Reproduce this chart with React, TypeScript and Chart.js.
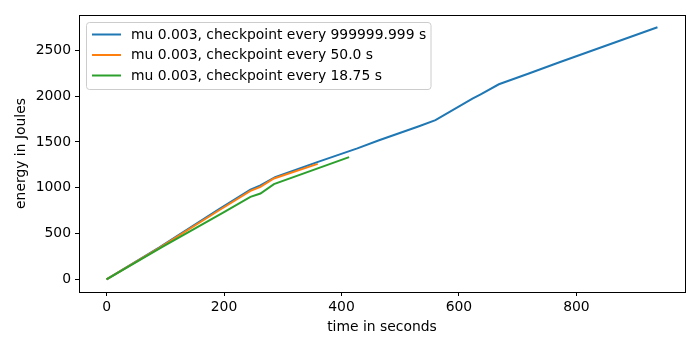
import React, { useEffect, useRef } from "react";
import { Chart, registerables } from "chart.js";

Chart.register(...registerables);

const seriesLabels = [
  "mu 0.003, checkpoint every 999999.999 s",
  "mu 0.003, checkpoint every 50.0 s",
  "mu 0.003, checkpoint every 18.75 s",
];
const seriesColors = ["#1f77b4", "#ff7f0e", "#2ca02c"];

const blueT = [0, 90, 191, 245, 262, 287, 360, 427, 464, 532, 560, 623, 637, 668, 719, 770, 938];
const blueE = [0, 350, 765, 980, 1025, 1115, 1282, 1430, 1518, 1671, 1737, 1973, 2020, 2129, 2246, 2366, 2752];

const orangeT = [0, 90, 191, 245, 262, 285, 359.5];
const orangeE = [0, 345, 752, 966, 1010, 1101, 1260];

const greenT = [0, 95, 200, 245, 262, 285, 413];
const greenE = [0, 355, 735, 900, 937, 1040, 1334];

const xTicks = [0, 200, 400, 600, 800];
const yTicks = [0, 500, 1000, 1500, 2000, 2500];

const FONT = "'DejaVu Sans', sans-serif";
const FS = 13.9;

const framePlugin = {
  id: "frame",
  afterDraw(chart: any) {
    const { ctx, chartArea } = chart;
    ctx.save();
    ctx.strokeStyle = "#000";
    ctx.lineWidth = 1;
    ctx.strokeRect(
      Math.round(chartArea.left) + 0.5,
      Math.round(chartArea.top) + 0.5,
      Math.round(chartArea.right - chartArea.left),
      Math.round(chartArea.bottom - chartArea.top)
    );
    // legend
    const x0 = 86.5, y0 = 22.5, w = 344.5, h = 67;
    const r = 3;
    ctx.beginPath();
    ctx.moveTo(x0 + r, y0);
    ctx.lineTo(x0 + w - r, y0);
    ctx.arcTo(x0 + w, y0, x0 + w, y0 + r, r);
    ctx.lineTo(x0 + w, y0 + h - r);
    ctx.arcTo(x0 + w, y0 + h, x0 + w - r, y0 + h, r);
    ctx.lineTo(x0 + r, y0 + h);
    ctx.arcTo(x0, y0 + h, x0, y0 + h - r, r);
    ctx.lineTo(x0, y0 + r);
    ctx.arcTo(x0, y0, x0 + r, y0, r);
    ctx.closePath();
    ctx.fillStyle = "rgba(255,255,255,0.8)";
    ctx.fill();
    ctx.strokeStyle = "#cccccc";
    ctx.stroke();
    const rows = [34.5, 55, 75.5];
    chart.data.datasets.forEach((ds: any, i: number) => {
      ctx.beginPath();
      ctx.strokeStyle = ds.borderColor;
      ctx.lineWidth = 2;
      ctx.moveTo(92, rows[i]);
      ctx.lineTo(121, rows[i]);
      ctx.stroke();
      ctx.fillStyle = "#000";
      ctx.font = `${FS}px ${FONT}`;
      ctx.textBaseline = "middle";
      ctx.textAlign = "left";
      ctx.fillText(ds.label, 131, rows[i] + 0.5);
    });
    ctx.restore();
  },
};

export default function App() {
  const ref = useRef<HTMLCanvasElement>(null);
  useEffect(() => {
    document.body.style.margin = "0";
    const mk = (ts: number[], es: number[]) => ts.map((t, i) => ({ x: t, y: es[i] }));
    const datasets = [
      { label: seriesLabels[0], data: mk(blueT, blueE), borderColor: seriesColors[0], order: 3 },
      { label: seriesLabels[1], data: mk(orangeT, orangeE), borderColor: seriesColors[1], order: 2 },
      { label: seriesLabels[2], data: mk(greenT, greenE), borderColor: seriesColors[2], order: 1 },
    ].map((d) => ({
      ...d,
      backgroundColor: d.borderColor,
      borderWidth: 2,
      pointRadius: 0,
      tension: 0,
      fill: false,
    }));
    const chart = new Chart(ref.current!, {
      type: "line",
      data: { datasets },
      options: {
        animation: false,
        responsive: false,
        devicePixelRatio: 1,
        layout: { padding: { left: 0, top: 15, right: 15, bottom: 0 } },
        plugins: { legend: { display: false }, tooltip: { enabled: false } },
        scales: {
          x: {
            type: "linear",
            min: -46.9,
            max: 984.9,
            afterBuildTicks: (s: any) => {
              s.ticks = xTicks.map((v) => ({ value: v }));
            },
            afterFit: (s: any) => {
              s.height = 58;
              s.paddingLeft = 0;
              s.paddingRight = 0;
            },
            grid: {
              drawOnChartArea: false,
              drawTicks: true,
              tickLength: 4,
              color: "#000",
              tickWidth: 1,
            },
            border: { display: true, color: "#000", width: 1 },
            ticks: {
              color: "#000",
              padding: 3,
              maxRotation: 0,
              font: { family: FONT, size: FS },
              callback: (v: any) => String(v),
            },
            title: {
              display: true,
              text: "time in seconds",
              color: "#000",
              font: { family: FONT, size: FS },
              padding: { top: 0, bottom: 14 },
            },
          },
          y: {
            type: "linear",
            min: -137.6,
            max: 2885,
            afterBuildTicks: (s: any) => {
              s.ticks = yTicks.map((v) => ({ value: v }));
            },
            afterFit: (s: any) => {
              s.width = 79;
            },
            grid: {
              drawOnChartArea: false,
              drawTicks: true,
              tickLength: 4,
              color: "#000",
              tickWidth: 1,
            },
            border: { display: true, color: "#000", width: 1 },
            ticks: {
              color: "#000",
              padding: 4,
              font: { family: FONT, size: FS },
              callback: (v: any) => String(v),
            },
            title: {
              display: true,
              text: "energy in Joules",
              color: "#000",
              font: { family: FONT, size: FS },
              padding: { top: 13, bottom: 0 },
            },
          },
        },
      },
      plugins: [framePlugin],
    });
    return () => chart.destroy();
  }, []);
  return (
    <div style={{ position: "absolute", left: 0, top: 0, width: 700, height: 350, background: "#fff" }}>
      <canvas ref={ref} width={700} height={350} />
    </div>
  );
}
